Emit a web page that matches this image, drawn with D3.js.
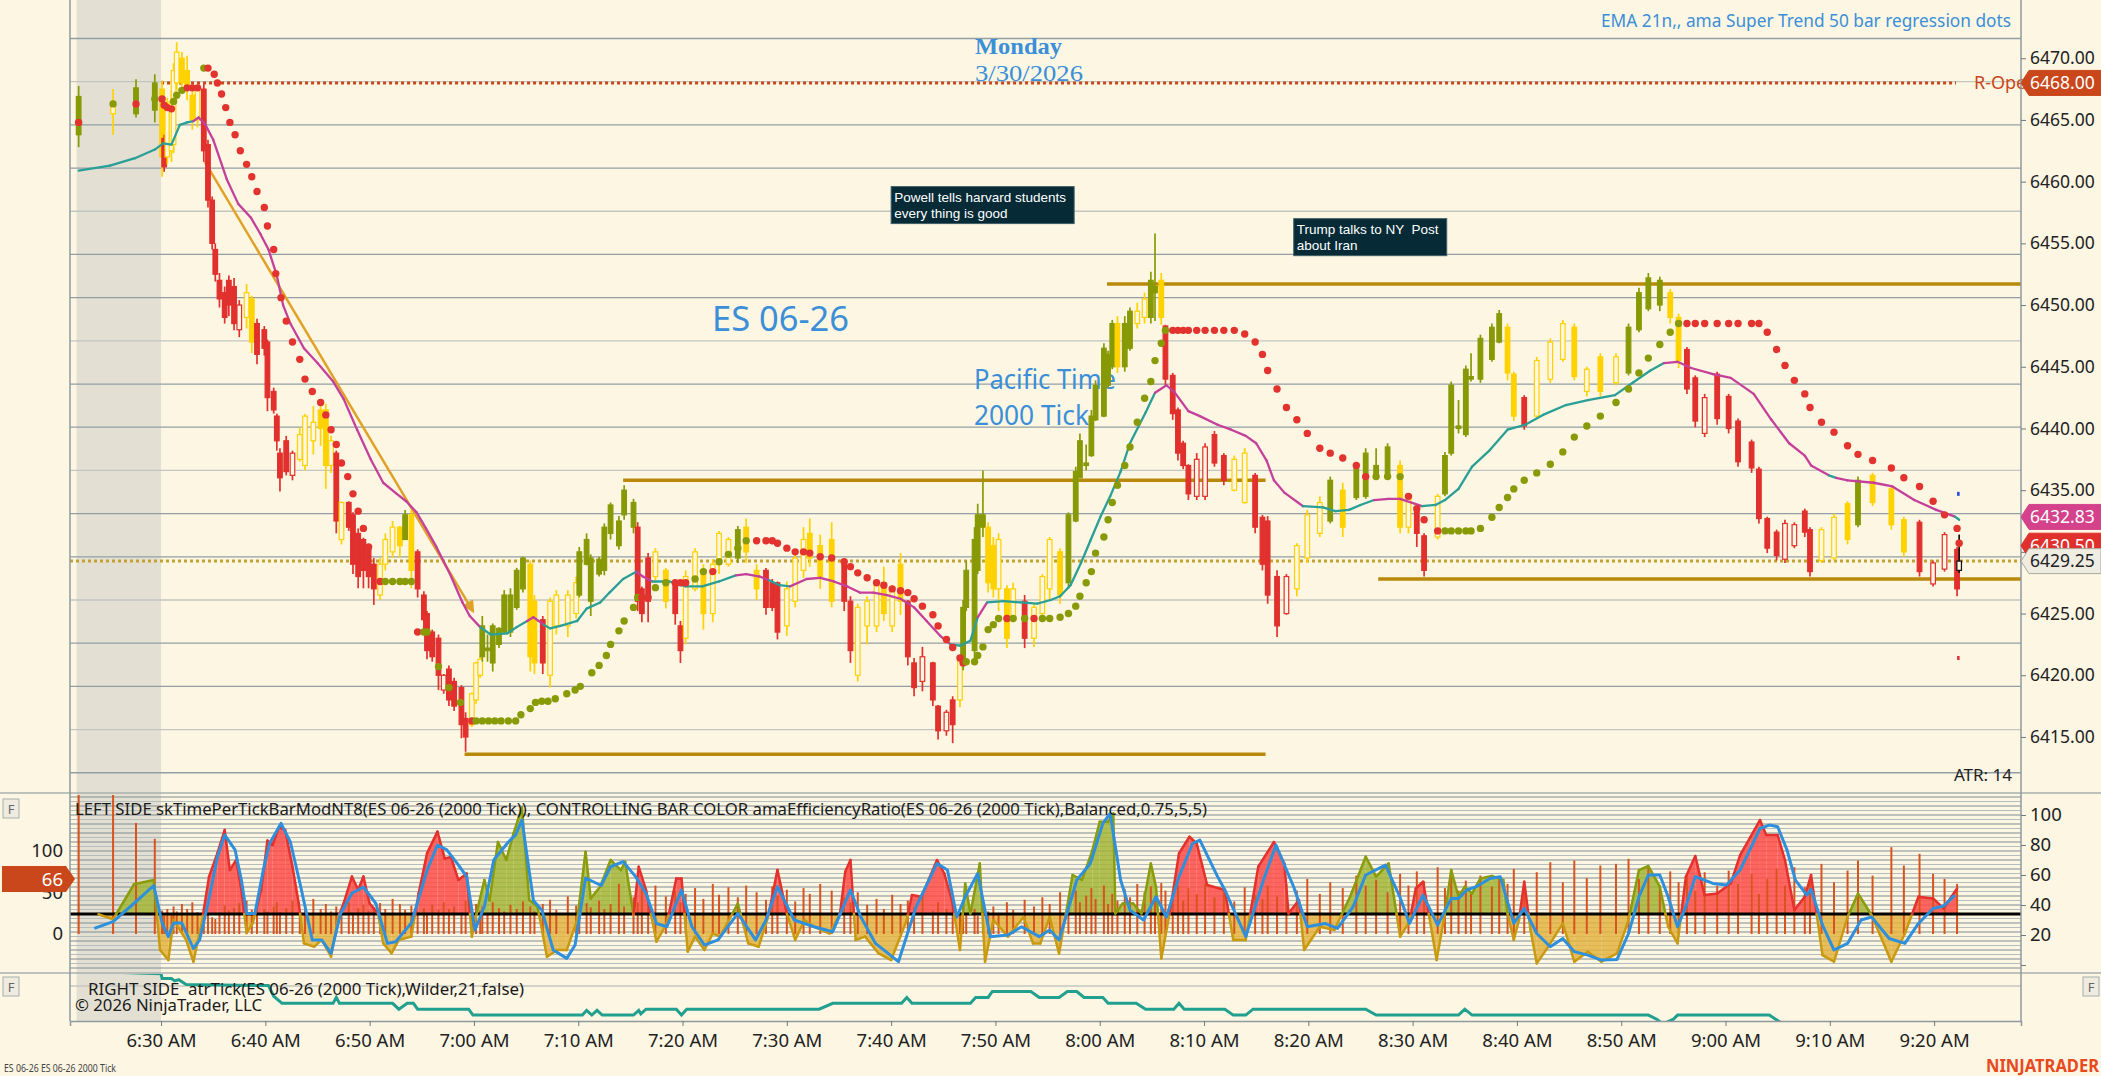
<!DOCTYPE html>
<html>
<head>
<meta charset="utf-8">
<script src="https://cdn.jsdelivr.net/npm/d3@7"></script>
<style>
  body { margin: 0; background: #FDF6E3; }
  svg text { font-family: "Noto Sans", sans-serif; }
</style>
</head>
<body>
<div id="chart"></div>
<script>
// time is minutes after 6:00 AM, rows: [t, open, high, low, close, tone, timePerBar]
var barsPre = [
  [22.1, 6463.8, 6467.75, 6462.8, 6466.9, 'g', 220], [25.4, 6465.5, 6467.5, 6463.8, 6466.5, 'y', 220],
  [27.6, 6465.5, 6468.3, 6465.2, 6467.6, 'g', 133], [29.4, 6465.8, 6468.7, 6464.8, 6468.0, 'g', 114]
];
var barsDrop = [
  [30.1, 6467.5, 6468.2, 6460.4, 6462.0, 'y', 28], [30.3, 6463.5, 6463.8, 6460.8, 6461.2, 'r', 22],
  [30.6, 6462.0, 6466.8, 6461.4, 6466.0, 'y', 30], [31.0, 6462.5, 6467.4, 6461.6, 6466.5, 'y', 25],
  [31.2, 6463.0, 6469.6, 6462.3, 6469.0, 'y', 33], [31.5, 6468.0, 6471.3, 6467.4, 6470.5, 'y', 27],
  [32.0, 6470.0, 6470.5, 6467.4, 6468.0, 'y', 36], [32.5, 6469.0, 6470.2, 6466.6, 6467.5, 'y', 30],
  [33.0, 6467.0, 6467.75, 6464.2, 6465.0, 'y', 38], [33.5, 6465.0, 6467.75, 6464.4, 6467.5, 'y', 26],
  [34.1, 6467.5, 6467.9, 6461.6, 6462.5, 'r', 32], [34.5, 6463.0, 6463.4, 6457.9, 6458.5, 'r', 24],
  [34.9, 6458.5, 6458.8, 6454.5, 6455.0, 'r', 20], [35.2, 6454.5, 6455.0, 6451.9, 6452.5, 'r', 18],
  [35.6, 6452.0, 6452.6, 6449.8, 6450.5, 'r', 26], [36.1, 6451.0, 6451.5, 6448.5, 6449.0, 'r', 34],
  [36.5, 6452.0, 6452.4, 6449.1, 6450.0, 'r', 28], [37.0, 6451.5, 6452.2, 6447.95, 6448.5, 'r', 31],
  [37.5, 6448.0, 6450.4, 6447.4, 6450.0, 'R', 37], [38.2, 6449.0, 6451.7, 6448.1, 6451.0, 'y', 40],
  [38.7, 6450.5, 6450.75, 6446.1, 6447.0, 'y', 29], [39.2, 6448.5, 6448.9, 6445.2, 6446.0, 'r', 35],
  [39.9, 6448.0, 6448.3, 6445.9, 6446.5, 'r', 30], [40.2, 6447.0, 6447.2, 6441.4, 6442.5, 'r', 27],
  [40.8, 6443.0, 6443.3, 6441.2, 6441.5, 'r', 33], [41.1, 6441.0, 6441.2, 6438.2, 6439.0, 'r', 38],
  [41.4, 6438.0, 6438.4, 6434.9, 6436.0, 'r', 26], [42.0, 6439.0, 6439.4, 6436.2, 6436.5, 'r', 31],
  [42.6, 6436.2, 6438.2, 6435.8, 6438.0, 'R', 40], [43.3, 6437.5, 6440.1, 6437.3, 6439.5, 'y', 28],
  [43.8, 6437.0, 6441.2, 6436.6, 6441.0, 'y', 34], [44.6, 6439.0, 6441.8, 6437.9, 6440.5, 'y', 42],
  [45.3, 6441.5, 6442.0, 6438.6, 6440.0, 'y', 30], [45.8, 6441.5, 6442.0, 6435.1, 6437.0, 'y', 36],
  [46.3, 6437.0, 6439.4, 6436.4, 6439.0, 'y', 27], [46.8, 6438.0, 6438.2, 6431.5, 6432.5, 'r', 33],
  [47.3, 6431.0, 6434.1, 6430.6, 6434.0, 'y', 29], [48.0, 6434.0, 6434.1, 6431.7, 6432.0, 'r', 38],
  [48.4, 6433.0, 6433.2, 6428.2, 6429.0, 'r', 25], [48.9, 6431.5, 6431.9, 6427.05, 6428.0, 'r', 31],
  [49.4, 6431.0, 6431.15, 6427.05, 6428.5, 'r', 35], [49.9, 6430.5, 6430.6, 6427.05, 6428.0, 'r', 28],
  [50.4, 6429.0, 6429.5, 6425.7, 6427.0, 'r', 32], [51.0, 6426.5, 6429.5, 6426.1, 6429.0, 'y', 37],
  [51.5, 6429.0, 6431.5, 6428.5, 6431.0, 'y', 30], [52.2, 6430.0, 6432.5, 6429.5, 6432.0, 'y', 42],
  [52.9, 6432.0, 6432.1, 6429.5, 6430.5, 'y', 36], [53.4, 6431.0, 6433.4, 6431.0, 6433.0, 'g', 29],
  [54.0, 6433.0, 6433.4, 6427.05, 6428.5, 'y', 34], [54.6, 6430.0, 6430.2, 6426.3, 6427.0, 'r', 27],
  [55.2, 6426.5, 6426.8, 6423.7, 6424.5, 'r', 31], [55.5, 6425.0, 6425.2, 6421.3, 6422.0, 'r', 24],
  [56.0, 6423.5, 6423.7, 6421.1, 6421.5, 'r', 35], [56.6, 6423.0, 6423.3, 6418.8, 6420.0, 'r', 29],
  [57.1, 6418.8, 6420.1, 6418.5, 6420.0, 'R', 38], [57.6, 6420.5, 6420.8, 6417.5, 6418.0, 'r', 30],
  [58.1, 6419.5, 6419.8, 6417.1, 6417.5, 'r', 33], [58.8, 6419.0, 6419.2, 6414.9, 6416.0, 'r', 26],
  [59.2, 6416.5, 6417.0, 6413.8, 6415.0, 'r', 40]
];
var barsBase = [
  [59.8, 6416.0, 6418.6, 6415.8, 6418.5, 'y', 30], [60.2, 6418.0, 6421.1, 6417.7, 6421.0, 'y', 36],
  [60.6, 6420.0, 6421.6, 6419.8, 6421.3, 'y', 28], [60.8, 6421.5, 6424.8, 6421.1, 6424.0, 'g', 33],
  [61.3, 6422.0, 6423.3, 6421.1, 6422.2, 'g', 25], [61.8, 6421.0, 6424.2, 6420.3, 6424.0, 'g', 38],
  [62.4, 6422.5, 6423.9, 6422.2, 6423.8, 'g', 31], [62.9, 6423.5, 6426.9, 6423.3, 6426.5, 'g', 27],
  [63.5, 6423.5, 6427.05, 6423.1, 6426.5, 'g', 35], [64.1, 6425.5, 6428.7, 6425.3, 6428.5, 'g', 30],
  [64.7, 6427.0, 6429.6, 6426.7, 6429.5, 'g', 39], [65.4, 6429.0, 6429.3, 6420.3, 6421.5, 'y', 33],
  [65.8, 6426.0, 6426.5, 6420.1, 6421.0, 'y', 27], [66.6, 6424.5, 6424.8, 6420.1, 6421.0, 'r', 36],
  [67.3, 6420.0, 6426.3, 6419.0, 6426.0, 'y', 41], [67.9, 6424.0, 6426.9, 6423.3, 6426.5, 'y', 29],
  [69.0, 6424.0, 6426.9, 6423.1, 6426.5, 'y', 45], [69.8, 6425.0, 6428.0, 6424.6, 6427.5, 'y', 34],
  [70.1, 6426.5, 6430.4, 6426.3, 6430.0, 'g', 28], [70.8, 6429.0, 6431.5, 6428.9, 6431.0, 'g', 37],
  [71.2, 6426.0, 6429.8, 6424.8, 6429.5, 'g', 32], [72.0, 6428.2, 6429.6, 6428.0, 6429.4, 'g', 40],
  [72.5, 6428.5, 6432.3, 6428.1, 6432.0, 'g', 30], [73.1, 6431.5, 6434.0, 6431.0, 6433.8, 'g', 36],
  [73.9, 6430.5, 6432.9, 6430.2, 6432.5, 'g', 60], [74.4, 6433.0, 6435.4, 6432.6, 6435.0, 'g', 33],
  [75.3, 6432.0, 6434.3, 6431.5, 6434.0, 'g', 44], [75.7, 6432.0, 6432.4, 6425.2, 6426.0, 'r', 38],
  [76.1, 6427.0, 6427.2, 6424.3, 6425.0, 'r', 55], [76.7, 6429.5, 6429.9, 6424.3, 6426.0, 'r', 40],
  [77.4, 6428.0, 6430.3, 6427.5, 6430.0, 'y', 58], [78.4, 6428.5, 6428.7, 6425.4, 6426.0, 'y', 45],
  [79.3, 6427.5, 6427.6, 6424.1, 6425.0, 'r', 52], [79.8, 6424.0, 6424.4, 6421.0, 6422.0, 'r', 38],
  [80.3, 6423.0, 6428.5, 6422.5, 6428.0, 'y', 48], [81.2, 6427.0, 6430.3, 6426.8, 6430.0, 'y', 55],
  [82.0, 6428.5, 6429.0, 6423.7, 6425.0, 'y', 42], [82.9, 6425.0, 6429.4, 6424.3, 6429.0, 'y', 60],
  [83.5, 6429.0, 6431.7, 6428.2, 6431.5, 'y', 47], [84.4, 6429.0, 6431.2, 6428.8, 6431.0, 'y', 56],
  [85.3, 6429.5, 6432.1, 6429.1, 6431.8, 'g', 44], [86.1, 6432.0, 6432.7, 6429.1, 6430.0, 'y', 58],
  [87.1, 6428.5, 6429.0, 6426.1, 6427.0, 'y', 50], [88.0, 6428.5, 6428.7, 6424.9, 6425.5, 'r', 41],
  [88.6, 6427.5, 6427.8, 6425.2, 6425.5, 'r', 57], [89.1, 6427.5, 6427.6, 6422.9, 6423.5, 'r', 46],
  [90.0, 6424.0, 6427.6, 6423.2, 6427.0, 'y', 53], [90.8, 6426.0, 6430.0, 6425.5, 6429.5, 'y', 39],
  [91.6, 6428.5, 6432.0, 6427.9, 6431.0, 'y', 55], [92.2, 6431.5, 6432.7, 6428.8, 6429.5, 'y', 48],
  [93.2, 6430.5, 6431.4, 6427.0, 6428.0, 'y', 60], [94.3, 6431.0, 6432.4, 6425.5, 6426.0, 'y', 52],
  [95.5, 6429.0, 6429.4, 6425.2, 6426.0, 'r', 44], [96.1, 6426.0, 6426.4, 6421.0, 6422.0, 'r', 38],
  [96.8, 6420.0, 6425.8, 6419.5, 6425.5, 'y', 50], [97.7, 6424.0, 6426.4, 6422.5, 6426.0, 'y', 35],
  [98.6, 6424.0, 6427.8, 6423.5, 6427.5, 'y', 42], [99.3, 6427.5, 6428.8, 6424.4, 6425.0, 'y', 30],
  [100.1, 6424.0, 6427.3, 6423.5, 6427.0, 'y', 47], [100.9, 6429.0, 6429.9, 6424.9, 6426.0, 'y', 36],
  [101.6, 6426.0, 6426.1, 6420.8, 6421.5, 'r', 40], [102.2, 6421.0, 6421.4, 6418.3, 6419.0, 'r', 32],
  [103.0, 6419.5, 6422.3, 6418.7, 6421.5, 'R', 45], [104.0, 6421.0, 6421.1, 6417.5, 6418.0, 'r', 28],
  [104.5, 6417.5, 6417.6, 6414.8, 6415.5, 'r', 38], [105.3, 6415.5, 6417.2, 6415.1, 6417.0, 'R', 30],
  [105.9, 6418.0, 6418.3, 6414.5, 6416.0, 'r', 42]
];
var barsRally = [
  [106.6, 6418.0, 6421.6, 6417.4, 6421.5, 'y', 26], [106.9, 6421.0, 6426.1, 6420.4, 6425.5, 'g', 34],
  [107.2, 6425.5, 6429.3, 6425.2, 6428.5, 'g', 24], [108.0, 6422.0, 6432.0, 6421.3, 6431.0, 'g', 30],
  [108.3, 6428.5, 6433.9, 6428.2, 6433.0, 'g', 22], [108.8, 6432.0, 6436.6, 6431.2, 6433.0, 'g', 36],
  [109.3, 6432.0, 6432.4, 6426.7, 6427.5, 'y', 27], [109.8, 6430.5, 6431.2, 6426.3, 6427.0, 'y', 33],
  [110.3, 6427.0, 6431.5, 6425.2, 6431.0, 'y', 25], [111.1, 6427.0, 6427.3, 6422.2, 6423.0, 'y', 38],
  [111.7, 6424.5, 6427.5, 6424.3, 6427.0, 'y', 29], [112.8, 6426.0, 6426.5, 6422.2, 6423.0, 'r', 41],
  [113.7, 6423.0, 6425.8, 6422.3, 6425.5, 'y', 33], [114.5, 6425.0, 6428.2, 6424.9, 6428.0, 'y', 44],
  [115.2, 6427.0, 6431.2, 6426.1, 6431.0, 'y', 36], [116.2, 6430.0, 6430.3, 6425.8, 6426.5, 'y', 50],
  [117.0, 6427.5, 6433.2, 6427.0, 6433.0, 'g', 40], [117.7, 6432.5, 6436.9, 6432.4, 6436.5, 'g', 52],
  [118.1, 6436.0, 6439.6, 6436.0, 6439.0, 'g', 38], [118.7, 6437.0, 6438.7, 6436.6, 6437.2, 'g', 46],
  [119.2, 6437.8, 6441.5, 6437.7, 6441.0, 'g', 55], [119.6, 6440.7, 6443.9, 6440.6, 6443.5, 'g', 42],
  [120.4, 6441.0, 6446.9, 6440.9, 6446.5, 'g', 58], [120.8, 6443.5, 6446.3, 6443.3, 6446.0, 'g', 36],
  [121.2, 6445.0, 6448.8, 6444.8, 6448.5, 'g', 48], [121.7, 6448.5, 6449.1, 6444.5, 6445.0, 'y', 40],
  [122.4, 6445.0, 6449.1, 6444.6, 6448.5, 'g', 54], [122.9, 6446.5, 6449.8, 6446.3, 6449.5, 'g', 44],
  [123.6, 6448.5, 6450.2, 6448.1, 6449.5, 'y', 60], [124.3, 6449.0, 6451.0, 6448.5, 6450.5, 'y', 50],
  [124.9, 6449.0, 6452.7, 6448.5, 6452.0, 'g', 57], [125.3, 6451.0, 6455.8, 6448.7, 6451.5, 'g', 45],
  [125.9, 6452.0, 6452.6, 6448.4, 6449.0, 'y', 61]
];
var barsFade = [
  [126.3, 6448.3, 6448.4, 6443.5, 6444.0, 'r', 52], [127.0, 6444.3, 6444.5, 6440.7, 6441.2, 'r', 46],
  [127.5, 6441.5, 6441.7, 6437.4, 6438.0, 'r', 58], [128.0, 6438.8, 6439.0, 6436.7, 6437.0, 'r', 40],
  [128.5, 6437.0, 6437.1, 6434.2, 6434.7, 'r', 55], [129.3, 6434.5, 6438.0, 6434.2, 6437.5, 'R', 48],
  [130.1, 6434.5, 6438.8, 6434.2, 6438.5, 'R', 60], [131.0, 6439.5, 6439.8, 6436.9, 6437.2, 'r', 44],
  [131.9, 6437.8, 6438.0, 6435.4, 6435.8, 'r', 52], [132.9, 6435.0, 6437.8, 6434.9, 6437.5, 'y', 39],
  [133.9, 6434.0, 6438.4, 6433.9, 6438.0, 'y', 56], [134.9, 6436.2, 6436.4, 6431.5, 6432.0, 'r', 47],
  [135.6, 6432.8, 6433.0, 6428.5, 6429.0, 'r', 42], [136.1, 6432.5, 6432.9, 6425.8, 6426.5, 'r', 58],
  [137.0, 6428.0, 6428.5, 6423.1, 6424.0, 'r', 45], [137.9, 6425.0, 6428.2, 6424.9, 6428.0, 'R', 60],
  [138.9, 6427.0, 6430.7, 6426.4, 6430.5, 'y', 52], [139.9, 6429.5, 6433.4, 6429.1, 6433.0, 'y', 66],
  [141.1, 6431.5, 6434.5, 6431.2, 6434.0, 'y', 48], [142.1, 6432.5, 6436.1, 6432.3, 6435.8, 'g', 62],
  [143.3, 6435.0, 6435.6, 6431.2, 6432.0, 'y', 55], [144.6, 6434.4, 6437.1, 6434.2, 6436.8, 'g', 70],
  [145.5, 6434.5, 6438.4, 6434.3, 6438.0, 'g', 58], [146.5, 6436.3, 6438.4, 6436.1, 6437.0, 'g', 65],
  [147.6, 6436.2, 6438.8, 6436.0, 6438.5, 'g', 50], [148.8, 6437.0, 6437.4, 6431.5, 6432.0, 'y', 72],
  [149.6, 6432.0, 6434.7, 6431.5, 6434.5, 'y', 58], [150.4, 6433.5, 6433.7, 6430.4, 6431.5, 'r', 75],
  [151.1, 6431.3, 6431.5, 6428.0, 6428.5, 'r', 63], [152.4, 6431.2, 6434.7, 6431.0, 6434.5, 'y', 80],
  [153.1, 6434.7, 6438.1, 6434.5, 6437.8, 'g', 55], [153.7, 6438.0, 6443.8, 6437.8, 6443.5, 'g', 68],
  [154.4, 6440.0, 6442.3, 6439.6, 6440.2, 'g', 52], [155.1, 6439.5, 6445.1, 6439.3, 6444.8, 'g', 64],
  [155.6, 6444.0, 6446.1, 6443.8, 6444.2, 'g', 48], [156.5, 6444.0, 6447.6, 6443.7, 6447.3, 'g', 70],
  [157.6, 6445.6, 6448.5, 6445.4, 6448.2, 'g', 57], [158.3, 6447.0, 6449.6, 6446.9, 6449.3, 'g', 66],
  [159.1, 6448.2, 6448.5, 6443.9, 6444.5, 'y', 60], [159.7, 6444.4, 6444.6, 6440.6, 6441.0, 'y', 78],
  [160.7, 6442.5, 6442.7, 6439.9, 6440.2, 'r', 55], [161.9, 6441.0, 6445.8, 6440.8, 6445.5, 'y', 74],
  [163.2, 6444.0, 6447.3, 6443.7, 6447.0, 'y', 86], [164.4, 6445.6, 6448.8, 6445.4, 6448.5, 'y', 62],
  [165.5, 6448.2, 6448.5, 6443.9, 6444.2, 'y', 88], [166.7, 6443.0, 6445.0, 6442.6, 6444.8, 'y', 67],
  [168.0, 6445.8, 6446.1, 6442.6, 6443.0, 'y', 82], [169.5, 6443.7, 6446.1, 6443.5, 6445.8, 'y', 84],
  [170.7, 6444.5, 6448.5, 6444.3, 6448.2, 'g', 90], [171.7, 6448.0, 6451.4, 6447.8, 6451.0, 'g', 66],
  [172.6, 6449.7, 6452.6, 6449.5, 6452.2, 'g', 80], [173.7, 6452.0, 6452.3, 6449.5, 6450.0, 'g', 58],
  [174.7, 6451.0, 6451.3, 6448.5, 6449.0, 'y', 75], [175.5, 6449.0, 6449.3, 6444.9, 6445.5, 'y', 62],
  [176.3, 6446.4, 6446.6, 6442.8, 6443.2, 'r', 70], [177.1, 6444.1, 6444.3, 6440.1, 6440.6, 'r', 52],
  [178.0, 6439.6, 6442.8, 6439.3, 6442.5, 'R', 74], [179.2, 6444.4, 6444.6, 6440.3, 6440.8, 'r', 58],
  [180.3, 6442.6, 6442.8, 6439.6, 6440.0, 'r', 76], [181.2, 6440.6, 6440.8, 6436.9, 6437.3, 'r', 60],
  [182.5, 6438.9, 6439.1, 6436.4, 6436.8, 'r', 72], [183.2, 6436.7, 6436.9, 6432.3, 6432.7, 'r', 48],
  [184.0, 6432.7, 6432.85, 6429.9, 6430.3, 'r', 66], [184.9, 6431.6, 6431.8, 6429.3, 6429.7, 'r', 78],
  [185.7, 6429.4, 6432.6, 6429.1, 6432.3, 'R', 58], [186.6, 6430.5, 6432.4, 6430.3, 6432.2, 'R', 80],
  [187.6, 6433.3, 6433.5, 6431.2, 6431.6, 'r', 56], [188.1, 6431.8, 6432.0, 6428.0, 6428.4, 'r', 68],
  [189.2, 6429.3, 6432.0, 6429.1, 6431.8, 'y', 84], [190.4, 6429.5, 6433.1, 6429.3, 6432.8, 'y', 62],
  [191.7, 6433.9, 6434.1, 6430.6, 6431.0, 'y', 76], [192.7, 6432.2, 6436.1, 6432.0, 6435.8, 'g', 88],
  [194.1, 6436.2, 6436.4, 6433.7, 6434.0, 'y', 70], [195.9, 6435.1, 6435.3, 6431.8, 6432.2, 'y', 104],
  [197.1, 6432.6, 6432.85, 6429.6, 6430.0, 'y', 82], [198.6, 6432.4, 6432.6, 6428.0, 6428.4, 'r', 96],
  [199.9, 6427.4, 6429.3, 6427.2, 6429.1, 'R', 72], [201.0, 6428.6, 6431.6, 6428.4, 6431.4, 'R', 66],
  [202.2, 6430.2, 6430.4, 6426.4, 6427.0, 'r', 60], [202.4, 6428.5, 6431.4, 6428.3, 6429.25, 'K', 0]
];

// super trend dots [t, value, side]
var stDots = [
  [22.1, 6464.8, 'r'], [25.4, 6466.3, 'g'], [27.6, 6466.3, 'r'], [29.4, 6466.7, 'g'], [30.1, 6466.7, 'r'],
  [30.3, 6466.2, 'r'], [30.6, 6466.0, 'r'], [31.0, 6465.9, 'r'], [31.2, 6466.5, 'g'], [31.5, 6467.0, 'g'],
  [32.0, 6467.4, 'g'], [32.5, 6467.6, 'r'], [33.0, 6467.6, 'r'], [33.5, 6467.6, 'r'], [34.1, 6469.2, 'g'],
  [34.5, 6469.2, 'r'], [35.1, 6468.7, 'r'], [35.4, 6468.0, 'r'], [35.8, 6467.1, 'r'], [36.2, 6466.0, 'r'],
  [36.6, 6464.8, 'r'], [37.1, 6463.8, 'r'], [37.6, 6462.5, 'r'], [38.2, 6461.4, 'r'], [38.7, 6460.4, 'r'],
  [39.2, 6459.2, 'r'], [39.9, 6457.9, 'r'], [40.2, 6456.4, 'r'], [40.8, 6454.5, 'r'], [41.0, 6452.55, 'r'],
  [41.5, 6450.6, 'r'], [42.0, 6448.7, 'r'], [42.6, 6447.0, 'r'], [43.3, 6445.6, 'r'], [43.8, 6444.0, 'r'],
  [44.5, 6443.0, 'r'], [45.3, 6442.1, 'r'], [45.8, 6441.1, 'r'], [46.3, 6439.9, 'r'], [46.8, 6438.7, 'r'],
  [47.3, 6437.2, 'r'], [47.9, 6436.1, 'r'], [48.4, 6434.7, 'r'], [48.9, 6433.3, 'r'], [49.4, 6431.9, 'r'],
  [49.9, 6430.4, 'r'], [51.0, 6427.6, 'r'], [51.5, 6427.6, 'g'], [52.2, 6427.6, 'g'], [52.9, 6427.6, 'g'],
  [53.4, 6427.6, 'g'], [54.0, 6427.6, 'g'], [54.6, 6423.5, 'r'], [55.2, 6423.5, 'g'], [55.5, 6423.5, 'g'],
  [56.6, 6420.7, 'g'], [57.6, 6419.0, 'g'], [58.7, 6417.8, 'g'], [59.8, 6416.3, 'r'], [60.2, 6416.3, 'g'],
  [60.8, 6416.3, 'g'], [61.4, 6416.3, 'g'], [62.0, 6416.3, 'g'], [62.6, 6416.3, 'g'], [63.3, 6416.3, 'g'],
  [64.0, 6416.3, 'g'], [64.5, 6416.8, 'g'], [65.4, 6417.3, 'g'], [65.9, 6417.8, 'g'], [66.5, 6417.9, 'g'],
  [67.1, 6417.9, 'g'], [67.8, 6418.1, 'g'], [68.9, 6418.5, 'g'], [69.7, 6418.8, 'g'], [70.2, 6419.1, 'g'],
  [71.3, 6420.2, 'g'], [72.0, 6420.8, 'g'], [72.7, 6421.6, 'g'], [73.1, 6422.5, 'g'], [73.9, 6423.6, 'g'],
  [74.4, 6424.4, 'g'], [75.3, 6425.5, 'g'], [75.7, 6426.3, 'g'], [76.1, 6426.3, 'r'], [76.7, 6426.3, 'r'],
  [77.4, 6427.1, 'g'], [78.4, 6427.5, 'g'], [79.3, 6427.5, 'r'], [79.8, 6427.5, 'r'], [80.3, 6427.5, 'r'],
  [81.2, 6427.8, 'g'], [82.0, 6428.4, 'g'], [82.9, 6428.4, 'r'], [83.5, 6429.2, 'g'], [84.4, 6429.8, 'g'],
  [85.3, 6430.3, 'g'], [86.1, 6430.9, 'g'], [87.1, 6430.9, 'r'], [88.0, 6430.9, 'r'], [88.6, 6430.9, 'r'],
  [89.1, 6430.7, 'r'], [90.0, 6430.3, 'r'], [90.8, 6430.0, 'r'], [91.6, 6430.0, 'r'], [92.2, 6429.9, 'r'],
  [93.2, 6429.6, 'r'], [94.3, 6429.5, 'r'], [95.5, 6429.2, 'r'], [96.1, 6428.8, 'r'], [96.8, 6428.3, 'r'],
  [97.7, 6427.9, 'r'], [98.6, 6427.5, 'r'], [99.3, 6427.3, 'r'], [100.1, 6427.0, 'r'], [100.9, 6426.85, 'r'],
  [101.6, 6426.7, 'r'], [102.2, 6426.2, 'r'], [103.0, 6425.6, 'r'], [104.0, 6424.9, 'r'], [104.5, 6424.0, 'r'],
  [105.3, 6422.9, 'r'], [105.9, 6422.25, 'r'], [106.6, 6421.4, 'r'], [106.9, 6421.0, 'r'], [107.2, 6421.1, 'g'],
  [108.0, 6421.1, 'g'], [108.3, 6421.6, 'g'], [108.8, 6422.3, 'g'], [109.3, 6423.7, 'g'], [109.8, 6424.1, 'g'],
  [110.3, 6424.6, 'g'], [111.1, 6424.6, 'r'], [111.7, 6424.6, 'g'], [112.8, 6424.6, 'g'], [113.7, 6424.6, 'r'],
  [114.5, 6424.6, 'g'], [115.2, 6424.6, 'g'], [116.2, 6424.7, 'g'], [117.0, 6425.0, 'g'], [117.7, 6425.6, 'g'],
  [118.1, 6426.4, 'g'], [118.7, 6427.5, 'g'], [119.2, 6428.4, 'g'], [119.6, 6429.9, 'g'], [120.4, 6431.2, 'g'],
  [120.8, 6432.6, 'g'], [121.2, 6434.0, 'g'], [121.7, 6435.4, 'g'], [122.4, 6437.0, 'g'], [122.9, 6438.5, 'g'],
  [123.6, 6440.5, 'g'], [124.3, 6442.45, 'g'], [124.9, 6443.8, 'g'], [125.3, 6445.5, 'g'], [125.9, 6446.9, 'g'],
  [126.3, 6447.95, 'g'], [127.0, 6447.95, 'r'], [127.5, 6447.95, 'r'], [128.0, 6447.95, 'r'], [128.5, 6447.95, 'r'],
  [129.3, 6447.95, 'r'], [130.1, 6447.95, 'r'], [131.0, 6447.95, 'r'], [131.9, 6447.95, 'r'], [132.9, 6447.95, 'r'],
  [133.9, 6447.65, 'r'], [134.9, 6447.0, 'r'], [135.6, 6446.0, 'r'], [136.1, 6444.7, 'r'], [137.0, 6443.2, 'r'],
  [137.9, 6441.7, 'r'], [138.9, 6440.7, 'r'], [139.9, 6439.6, 'r'], [141.1, 6438.4, 'r'], [142.1, 6438.0, 'r'],
  [143.3, 6437.6, 'r'], [144.6, 6437.0, 'r'], [145.5, 6436.1, 'r'], [146.5, 6436.1, 'g'], [147.6, 6436.1, 'g'],
  [148.8, 6436.1, 'g'], [149.6, 6434.5, 'r'], [150.4, 6433.5, 'r'], [151.1, 6432.6, 'r'], [152.4, 6431.7, 'r'],
  [153.1, 6431.7, 'g'], [153.7, 6431.7, 'g'], [154.4, 6431.7, 'g'], [155.1, 6431.7, 'g'], [155.6, 6431.7, 'g'],
  [156.5, 6431.9, 'g'], [157.6, 6432.8, 'g'], [158.3, 6433.6, 'g'], [159.1, 6434.4, 'g'], [159.7, 6435.1, 'g'],
  [160.7, 6435.8, 'g'], [161.9, 6436.4, 'g'], [163.2, 6437.1, 'g'], [164.4, 6438.1, 'g'], [165.5, 6439.3, 'g'],
  [166.7, 6440.2, 'g'], [168.0, 6441.0, 'g'], [169.5, 6442.1, 'g'], [170.7, 6443.2, 'g'], [171.7, 6444.5, 'g'],
  [172.6, 6445.7, 'g'], [173.7, 6446.8, 'g'], [174.7, 6447.8, 'g'], [175.5, 6448.5, 'g'], [176.3, 6448.5, 'r'],
  [177.1, 6448.5, 'r'], [178.0, 6448.5, 'r'], [179.2, 6448.5, 'r'], [180.3, 6448.5, 'r'], [181.2, 6448.5, 'r'],
  [182.5, 6448.5, 'r'], [183.2, 6448.5, 'r'], [184.0, 6447.8, 'r'], [184.9, 6446.4, 'r'], [185.7, 6445.1, 'r'],
  [186.6, 6443.9, 'r'], [187.6, 6442.8, 'r'], [188.1, 6441.7, 'r'], [189.2, 6440.5, 'r'], [190.4, 6439.7, 'r'],
  [191.7, 6438.6, 'r'], [192.7, 6437.9, 'r'], [194.1, 6437.4, 'r'], [195.9, 6436.8, 'r'], [197.1, 6436.0, 'r'],
  [198.6, 6435.3, 'r'], [199.9, 6434.1, 'r'], [201.0, 6433.0, 'r'], [202.2, 6431.9, 'r'], [202.4, 6430.7, 'r']
];

// EMA 21 [t, value, u = rising teal / d = falling magenta]
var emaPts = [
  [22.1, 6460.9, 'u'], [25.1, 6461.3, 'u'], [27.5, 6461.9, 'u'], [29.4, 6462.6, 'u'], [30.2, 6463.1, 'u'],
  [31.0, 6463.0, 'u'], [31.8, 6464.6, 'u'], [32.5, 6464.8, 'u'], [33.1, 6464.9, 'u'], [33.6, 6465.2, 'd'],
  [34.2, 6464.7, 'd'], [35.0, 6463.4, 'd'], [36.3, 6460.2, 'd'], [37.4, 6458.2, 'd'], [38.6, 6457.1, 'd'],
  [39.5, 6455.8, 'd'], [40.3, 6454.5, 'd'], [41.1, 6452.4, 'd'], [41.7, 6450.0, 'd'], [42.4, 6448.5, 'd'],
  [43.7, 6446.5, 'd'], [45.0, 6445.3, 'd'], [46.5, 6443.8, 'd'], [47.5, 6442.4, 'd'], [48.8, 6439.9, 'd'],
  [50.1, 6437.5, 'd'], [51.3, 6435.6, 'd'], [52.6, 6434.7, 'd'], [53.5, 6434.1, 'd'], [54.5, 6433.2, 'd'],
  [55.4, 6431.9, 'd'], [56.4, 6430.4, 'd'], [57.7, 6428.2, 'd'], [58.9, 6425.9, 'd'], [59.6, 6424.8, 'd'],
  [60.6, 6423.9, 'd'], [61.6, 6423.3, 'u'], [63.2, 6423.4, 'u'], [64.1, 6423.9, 'u'], [65.1, 6424.4, 'u'],
  [65.7, 6424.7, 'd'], [66.7, 6424.1, 'd'], [67.3, 6423.8, 'u'], [68.3, 6424.0, 'u'], [69.9, 6424.4, 'u'],
  [70.8, 6425.4, 'u'], [72.1, 6425.9, 'u'], [73.0, 6426.7, 'u'], [74.3, 6427.8, 'u'], [75.6, 6428.4, 'u'],
  [76.2, 6428.0, 'd'], [77.1, 6427.6, 'd'], [78.7, 6427.6, 'u'], [80.3, 6427.2, 'u'], [81.9, 6427.2, 'u'],
  [83.5, 6427.6, 'u'], [85.1, 6428.1, 'u'], [86.1, 6428.2, 'd'], [87.4, 6428.0, 'd'], [88.3, 6427.7, 'd'],
  [89.3, 6427.3, 'u'], [90.3, 6427.2, 'u'], [91.9, 6427.8, 'd'], [93.2, 6427.9, 'd'], [94.5, 6427.6, 'd'],
  [95.8, 6427.2, 'd'], [97.0, 6426.7, 'd'], [98.3, 6426.7, 'd'], [99.6, 6426.5, 'd'], [100.9, 6426.2, 'd'],
  [102.2, 6425.5, 'd'], [103.4, 6424.4, 'd'], [104.7, 6423.2, 'd'], [105.7, 6422.5, 'd'], [106.6, 6422.4, 'u'],
  [107.6, 6422.8, 'u'], [108.3, 6424.7, 'u'], [109.2, 6425.9, 'd'], [110.8, 6426.0, 'u'], [112.4, 6425.9, 'u'],
  [114.0, 6425.8, 'u'], [115.3, 6426.1, 'u'], [116.2, 6426.4, 'u'], [117.2, 6427.3, 'u'], [118.2, 6429.1, 'u'],
  [119.1, 6430.9, 'u'], [120.1, 6432.9, 'u'], [121.0, 6434.5, 'u'], [122.0, 6436.5, 'u'], [122.9, 6438.8, 'u'],
  [124.4, 6441.3, 'u'], [125.3, 6442.9, 'u'], [126.4, 6443.5, 'd'], [127.2, 6442.9, 'd'], [128.5, 6441.4, 'd'],
  [129.6, 6441.0, 'd'], [131.3, 6440.3, 'd'], [132.6, 6439.9, 'd'], [134.0, 6439.4, 'd'], [135.0, 6438.8, 'd'],
  [136.0, 6437.4, 'd'], [136.7, 6435.8, 'd'], [137.7, 6434.8, 'd'], [139.5, 6433.7, 'd'], [141.4, 6433.6, 'u'],
  [142.6, 6433.3, 'u'], [143.9, 6433.4, 'u'], [145.0, 6433.8, 'u'], [146.3, 6434.2, 'u'], [147.7, 6434.3, 'd'],
  [148.8, 6434.3, 'd'], [150.9, 6433.7, 'd'], [152.2, 6433.8, 'u'], [153.1, 6434.2, 'u'], [154.4, 6435.1, 'u'],
  [155.7, 6436.9, 'u'], [157.4, 6438.25, 'u'], [159.1, 6439.9, 'u'], [160.8, 6440.3, 'u'], [162.5, 6441.1, 'u'],
  [164.7, 6441.9, 'u'], [166.8, 6442.3, 'u'], [169.4, 6442.7, 'u'], [171.1, 6443.7, 'u'], [172.8, 6444.7, 'u'],
  [174.1, 6445.3, 'u'], [175.4, 6445.4, 'd'], [176.7, 6444.9, 'd'], [178.8, 6444.4, 'd'], [180.5, 6444.1, 'd'],
  [182.7, 6442.8, 'd'], [184.4, 6440.7, 'd'], [186.1, 6438.8, 'd'], [187.6, 6437.8, 'd'], [188.2, 6437.0, 'd'],
  [189.9, 6436.2, 'd'], [190.6, 6436.0, 'u'], [191.7, 6435.8, 'd'], [194.2, 6435.6, 'd'], [196.0, 6435.3, 'd'],
  [198.1, 6434.2, 'd'], [200.2, 6433.4, 'd'], [202.0, 6432.85, 'd'], [202.4, 6432.6, 'u']
];

// efficiency ratio outline [t, value, colour when above threshold]
var erPts = [
  [24.0, 33.8, 'y'], [25.4, 30.4, 'y'], [27.4, 53.8, 'g'], [29.3, 56.7, 'g'], [29.9, 10, 'y'], [30.7, 3.3, 'y'],
  [31.2, 30, 'y'], [32.4, 16.7, 'y'], [33.1, 2.2, 'y'], [33.9, 28, 'y'], [34.6, 58.9, 'r'], [35.4, 74.4, 'r'],
  [36.1, 90, 'r'], [36.6, 63.3, 'r'], [37.2, 70, 'r'], [37.7, 50, 'r'], [38.2, 21.3, 'y'], [38.8, 28, 'y'],
  [39.6, 50, 'r'], [40.2, 83, 'r'], [40.7, 80, 'r'], [41.3, 92, 'r'], [41.9, 90, 'r'], [42.6, 65.5, 'r'],
  [43.2, 41, 'r'], [43.7, 14.4, 'y'], [44.7, 12.2, 'y'], [45.4, 16.7, 'y'], [46.3, 5.5, 'y'], [47.0, 32, 'y'],
  [47.5, 41, 'r'], [48.3, 59, 'r'], [48.9, 50, 'r'], [49.4, 59, 'r'], [50.0, 41, 'r'], [50.8, 34.4, 'r'],
  [51.3, 14.4, 'y'], [52.1, 7.8, 'y'], [52.8, 16.7, 'y'], [54.0, 18.9, 'y'], [54.7, 47.8, 'r'], [55.5, 74.4, 'r'],
  [56.5, 88.9, 'r'], [57.2, 71, 'r'], [57.8, 72, 'r'], [58.5, 56.7, 'r'], [59.3, 61, 'r'], [59.8, 18.9, 'y'],
  [60.4, 39, 'g'], [61.0, 56.7, 'g'], [61.5, 43, 'g'], [62.3, 82, 'g'], [63.1, 70, 'g'], [63.8, 87.8, 'g'],
  [64.6, 105, 'g'], [65.3, 43.3, 'g'], [66.1, 38.9, 'g'], [67.0, 5.5, 'y'], [68.0, 10, 'y'], [68.9, 10, 'y'],
  [69.9, 30, 'y'], [70.7, 75.5, 'g'], [71.2, 44.4, 'g'], [72.1, 52.2, 'g'], [73.1, 70, 'g'], [74.1, 63.3, 'g'],
  [74.5, 68.9, 'g'], [75.3, 33.3, 'y'], [75.8, 65.5, 'r'], [76.5, 50, 'r'], [77.5, 15.5, 'y'], [78.5, 27.7, 'y'],
  [79.4, 57.7, 'r'], [79.9, 57.7, 'r'], [80.5, 8.9, 'y'], [81.2, 18.9, 'y'], [82.1, 10, 'y'], [82.9, 21, 'y'],
  [83.6, 18.9, 'y'], [85.3, 41, 'g'], [86.3, 14.4, 'y'], [87.3, 12.2, 'y'], [88.2, 32, 'y'], [89.1, 63.3, 'r'],
  [90.0, 34.4, 'r'], [90.8, 16.7, 'y'], [91.7, 30, 'y'], [92.6, 25.5, 'y'], [94.1, 21, 'y'], [95.1, 34.4, 'r'],
  [95.6, 62.2, 'r'], [96.1, 70, 'r'], [96.6, 16.7, 'y'], [97.5, 18.9, 'y'], [98.8, 7.7, 'y'], [100.0, 3.3, 'y'],
  [101.5, 30, 'y'], [102.0, 46.6, 'r'], [102.9, 45.5, 'r'], [104.4, 70, 'r'], [105.1, 61, 'r'], [105.9, 41, 'r'],
  [106.6, 10, 'y'], [107.1, 54.4, 'g'], [107.6, 34.4, 'g'], [108.5, 67.7, 'g'], [109.0, 2.2, 'y'], [109.8, 30, 'y'],
  [111.2, 18.9, 'y'], [112.7, 32, 'y'], [113.6, 14.4, 'y'], [114.3, 14.4, 'y'], [115.2, 32, 'y'], [116.1, 7.7, 'y'],
  [117.4, 60, 'g'], [118.3, 56.7, 'g'], [119.3, 76.6, 'g'], [120.0, 95.5, 'g'], [120.8, 95.5, 'g'], [121.3, 101, 'g'],
  [121.5, 34.4, 'g'], [122.2, 41, 'g'], [123.2, 41, 'g'], [124.0, 34.4, 'g'], [124.9, 67.7, 'g'], [125.4, 52, 'g'],
  [125.9, 4.4, 'y'], [126.7, 34.4, 'r'], [127.6, 74.4, 'r'], [128.6, 85.5, 'r'], [129.3, 81, 'r'], [130.3, 53.3, 'r'],
  [132.0, 50, 'r'], [132.8, 16.7, 'y'], [134.0, 16.7, 'y'], [135.2, 65.5, 'r'], [136.7, 82, 'r'], [137.7, 67.7, 'r'],
  [138.1, 34.4, 'r'], [139.1, 43.3, 'r'], [139.6, 10, 'y'], [141.1, 25.5, 'y'], [142.5, 23.3, 'y'], [144.0, 45.5, 'g'],
  [145.5, 72.2, 'g'], [146.5, 58.9, 'g'], [147.7, 67.7, 'g'], [148.8, 18.9, 'y'], [149.7, 28.9, 'y'], [150.3, 51, 'r'],
  [151.0, 55.5, 'r'], [151.6, 32, 'y'], [152.3, 3.3, 'y'], [153.1, 34.4, 'g'], [153.7, 63.3, 'g'], [154.4, 45.5, 'g'],
  [155.0, 52.2, 'g'], [155.7, 47.7, 'g'], [156.5, 57.7, 'g'], [157.6, 59.3, 'g'], [158.7, 56.7, 'g'], [159.1, 34.4, 'g'],
  [159.7, 16.7, 'y'], [160.2, 30, 'y'], [160.7, 55.5, 'r'], [161.3, 23.3, 'y'], [161.9, 1.1, 'y'], [163.0, 12.2, 'y'],
  [164.4, 27.7, 'y'], [165.5, 2.2, 'y'], [166.8, 8.9, 'y'], [168.1, 2.2, 'y'], [169.6, 7.7, 'y'], [170.7, 30, 'y'],
  [171.7, 63.3, 'g'], [172.6, 66, 'g'], [173.7, 52.2, 'g'], [174.5, 25.5, 'y'], [175.4, 14.4, 'y'], [176.2, 58.9, 'r'],
  [177.1, 72.6, 'r'], [178.0, 46.6, 'r'], [179.2, 47.7, 'r'], [180.5, 54.4, 'r'], [181.4, 73.3, 'r'], [182.4, 85.5, 'r'],
  [183.3, 96.6, 'r'], [183.9, 86.6, 'r'], [185.0, 86.6, 'r'], [185.7, 70, 'r'], [186.6, 36.6, 'r'], [187.6, 45.5, 'r'],
  [188.2, 60, 'r'], [189.3, 6.6, 'y'], [190.4, 2.2, 'y'], [191.7, 32, 'y'], [192.7, 47.7, 'g'], [194.0, 33.3, 'y'],
  [195.9, 2.2, 'y'], [197.2, 21, 'y'], [198.5, 45.5, 'r'], [199.9, 44.4, 'r'], [200.9, 37.7, 'r'], [202.2, 51, 'r']
];
var erThreshold = 34;

// blue smoothing line [t, value]
var erBlue = [
  [23.6, 24.4], [25.4, 28.9], [27.4, 41], [29.3, 53], [30.1, 28], [30.7, 18.9], [31.2, 28], [32.0, 28], [33.1, 11],
  [33.7, 16.7], [34.5, 41], [35.4, 72], [36.1, 86.7], [37.1, 76.7], [37.7, 56.7], [38.2, 34.4], [39.0, 34.4],
  [39.8, 63.3], [40.4, 81], [41.5, 94.4], [42.4, 82], [43.4, 52], [44.5, 16.7], [45.4, 16.7], [46.3, 7.8], [47.2, 34],
  [48.3, 47.8], [49.4, 52], [50.6, 41], [51.7, 14.4], [52.5, 15.5], [54.0, 28], [55.5, 63], [56.5, 80], [57.4, 76.7],
  [58.5, 66.7], [59.3, 59], [60.1, 23.3], [61.0, 39], [61.9, 70], [63.3, 82], [64.0, 86.7], [64.6, 96.7], [65.7, 43],
  [66.5, 36.7], [67.6, 10], [68.9, 4.4], [69.7, 13.3], [70.7, 58], [72.2, 53], [73.1, 65.5], [74.3, 68.9], [75.5, 58.9],
  [76.5, 47.7], [77.5, 27.7], [78.5, 25.5], [79.9, 50], [80.9, 25.5], [82.1, 13.3], [83.4, 16.7], [85.3, 34.4],
  [87.0, 16.7], [88.0, 30], [89.1, 52.2], [90.7, 30], [92.6, 25.5], [94.4, 22.2], [96.1, 50], [97.1, 32], [98.5, 14.4],
  [100.7, 2.2], [102.4, 38.9], [104.4, 67.7], [105.4, 63.3], [106.3, 32], [107.1, 45.5], [108.3, 61], [109.5, 18.9],
  [111.2, 20], [112.5, 25.5], [114.2, 18.9], [115.2, 23.3], [116.1, 16.7], [117.8, 56.7], [119.1, 67.7], [120.3, 94.4],
  [121.0, 101], [122.0, 56.7], [122.9, 36.6], [124.2, 30], [125.4, 45.5], [126.4, 32], [127.6, 58.9], [128.9, 81],
  [129.6, 83.3], [131.3, 58.9], [132.0, 50], [134.0, 18.9], [135.7, 56.7], [136.9, 80], [138.6, 52], [139.9, 25.5],
  [141.6, 27.7], [142.8, 24.4], [144.3, 38.9], [145.5, 60], [147.4, 66.6], [148.8, 45], [149.7, 27.7], [151.0, 46.6],
  [152.4, 26.6], [153.7, 44.4], [154.4, 44.4], [155.2, 50], [156.1, 52.2], [157.4, 57.7], [158.4, 58.9], [159.7, 27.7],
  [160.7, 37.7], [161.9, 21], [163.2, 12.2], [164.4, 17.7], [165.5, 8.9], [166.8, 6.6], [168.1, 3.3], [169.6, 3.7],
  [170.7, 21], [171.7, 45.5], [172.6, 60], [173.7, 60], [174.5, 45.5], [175.4, 25.5], [176.2, 38.9], [177.1, 58.9],
  [178.8, 54.4], [180.1, 53.3], [181.4, 63.3], [182.4, 77.7], [183.3, 91], [184.2, 93.3], [185.0, 92.2], [185.9, 76.6],
  [186.7, 56.6], [187.8, 46.6], [188.2, 50.4], [189.3, 26.6], [190.4, 10], [191.7, 14.4], [193.0, 30], [194.0, 32],
  [195.7, 17.7], [197.2, 14.4], [198.5, 27.7], [199.9, 37.7], [200.9, 39.3], [202.0, 46.6]
];

// atrTick [t, ticks]
var atrPts = [
  [26.3, 22.2], [30.0, 22.0], [30.1, 21.2], [31.0, 21.2], [31.3, 20.8], [31.7, 21.0], [32.4, 20.2], [40.3, 20.0],
  [40.8, 18.2], [41.6, 17.0], [46.5, 17.0], [46.8, 18.0], [47.1, 17.0], [52.2, 17.0], [52.8, 16.0], [53.6, 17.0],
  [54.2, 17.0], [54.6, 16.0], [59.5, 16.0], [59.9, 15.0], [70.4, 15.0], [70.8, 15.8], [71.3, 15.0], [71.8, 15.8],
  [72.3, 15.0], [75.3, 15.0], [75.8, 15.8], [76.0, 15.2], [76.5, 16], [79.4, 16], [79.9, 15], [80.4, 16], [93.1, 16],
  [94.4, 17], [101.0, 17], [101.5, 18], [102.0, 17], [107.6, 17], [108.1, 18], [109.3, 18], [109.7, 19], [113.4, 19],
  [114.2, 18], [116.1, 18], [116.9, 19], [117.8, 19], [118.5, 18], [120.3, 18], [120.8, 17], [123.5, 17], [124.4, 16],
  [127.1, 16], [127.6, 17], [128.1, 16], [132.0, 16], [132.8, 15], [134.0, 15], [134.7, 16], [145.5, 16], [146.5, 15],
  [154.4, 15], [155.0, 16], [155.7, 15], [172.6, 15], [173.4, 14.3], [174.0, 13.5], [175.0, 14.3], [175.4, 15],
  [184.2, 15], [184.8, 14.3], [185.5, 13.5]
];

var priceTicks = [6415, 6420, 6425, 6430, 6435, 6440, 6445, 6450, 6455, 6460, 6465, 6470];
var priceGrid = [6471.6, 6468.1, 6464.6, 6461.1, 6457.6, 6454.1, 6450.6, 6447.1, 6443.6, 6440.1, 6436.6,
                 6433.1, 6429.6, 6426.1, 6422.6, 6419.1, 6415.6, 6412.1];
// horizontal levels [from t, to t, price]
var levels = [[59.1, 135.9, 6413.6], [74.3, 135.9, 6435.8], [120.7, 208.4, 6451.7], [146.7, 208.4, 6427.8]];
var trendArrow = [[34.2, 6461.6], [59.9, 6425.2]];
var rOpen = {from: 30.0, to: 202.1, price: 6468};
var lastPrice = 6429.25;
var premarket = [21.9, 30.0];
var priceFlags = [
  [6468.00, '#C9471B', '#fff'], [6432.83, '#D4428C', '#fff'], [6430.50, '#E0302E', '#fff'], [6429.25, '#EFECE2', '#222']
];
var markers = [[202.3, 6434.7, '#1E46E0'], [202.3, 6421.4, '#E0302E']];
var notes = [
  {t: 100.0, p: 6459.6, lines: ['Powell tells harvard students', 'every thing is good'], w: 183},
  {t: 138.6, p: 6457.0, lines: ['Trump talks to NY  Post', 'about Iran'], w: 153}
];

var W = 2101, H = 1076;
var plotL = 70, plotR = 2021;

document.addEventListener('DOMContentLoaded', function () {
  var svg = d3.select('#chart').append('svg').attr('width', W).attr('height', H);
  svg.append('rect').attr('width', W).attr('height', H).attr('fill', '#FDF6E3');

  var t0 = new Date(2026, 2, 30, 6, 0, 0).getTime();
  function at(m) { return new Date(t0 + m * 60000); }
  var xTime = d3.scaleTime().domain([at(21.27), at(208.33)]).range([plotL, plotR]);
  function X(t) { return xTime(at(t)); }
  var yPrice = d3.scaleLinear().domain([6410.54, 6474.72]).range([792, 0]);
  var yER = d3.scaleLinear().domain([0, 100]).range([965, 815]);
  var yHist = d3.scaleLinear().domain([0, 100]).range([934, 850.5]);
  var yAtr = d3.scaleLinear().domain([14, 22]).range([1021, 973.8]);

  var defs = svg.append('defs');
  function clip(id, y0, y1) {
    defs.append('clipPath').attr('id', id).append('rect')
      .attr('x', plotL).attr('y', y0).attr('width', plotR - plotL).attr('height', y1 - y0);
  }
  clip('cPrice', 0, 792); clip('cInd', 795, 972); clip('cAtr', 974, 1021);

  var allBars = barsPre.concat(barsDrop, barsBase, barsRally, barsFade);

  // premarket shading
  svg.append('rect').attr('x', X(premarket[0])).attr('y', 0)
    .attr('width', X(premarket[1]) - X(premarket[0])).attr('height', 1021).attr('fill', '#E3E0D3');

  // ---------- price panel ----------
  var gp = svg.append('g').attr('clip-path', 'url(#cPrice)');
  gp.selectAll('.pg').data(priceGrid).enter().append('line')
    .attr('x1', plotL).attr('x2', plotR)
    .attr('y1', d => yPrice(d)).attr('y2', d => yPrice(d))
    .attr('stroke', (d, k) => k % 3 == 1 ? '#C2C6C1' : '#919FA4').attr('stroke-width', 1.3);

  // text behind the bars
  gp.append('text').attr('x', 712).attr('y', 331).text('ES 06-26')
    .attr('font-size', 35).attr('fill', '#3A8FD8').attr('textLength', 137).attr('lengthAdjust', 'spacingAndGlyphs');
  gp.append('text').attr('x', 974).attr('y', 389).text('Pacific Time')
    .attr('font-size', 27).attr('fill', '#3A8FD8').attr('textLength', 142).attr('lengthAdjust', 'spacingAndGlyphs');
  gp.append('text').attr('x', 974).attr('y', 425).text('2000 Tick')
    .attr('font-size', 27).attr('fill', '#3A8FD8').attr('textLength', 115).attr('lengthAdjust', 'spacingAndGlyphs');
  gp.append('text').attr('x', 975).attr('y', 54).text('Monday')
    .style('font-family', '"Liberation Serif", serif')
    .attr('font-weight', 'bold').attr('font-size', 23).attr('fill', '#3A8FD8')
    .attr('textLength', 87).attr('lengthAdjust', 'spacingAndGlyphs');
  gp.append('text').attr('x', 975).attr('y', 81).text('3/30/2026')
    .style('font-family', '"Liberation Serif", serif')
    .attr('font-size', 23).attr('fill', '#3A8FD8').attr('textLength', 108).attr('lengthAdjust', 'spacingAndGlyphs');
  gp.append('text').attr('x', 2011).attr('y', 27).attr('text-anchor', 'end')
    .text('EMA 21n,, ama Super Trend 50 bar regression dots')
    .attr('font-size', 18).attr('fill', '#3A8FD8').attr('textLength', 410).attr('lengthAdjust', 'spacingAndGlyphs');
  gp.append('text').attr('x', 2012).attr('y', 781).attr('text-anchor', 'end').text('ATR: 14')
    .attr('font-size', 17).attr('fill', '#222');

  // dotted lines
  gp.append('line').attr('x1', plotL).attr('x2', plotR)
    .attr('y1', yPrice(lastPrice)).attr('y2', yPrice(lastPrice))
    .attr('stroke', '#C4A232').attr('stroke-width', 3).attr('stroke-dasharray', '3,3');
  gp.append('line').attr('x1', X(rOpen.from)).attr('x2', X(rOpen.to))
    .attr('y1', yPrice(rOpen.price)).attr('y2', yPrice(rOpen.price))
    .attr('stroke', '#C9471B').attr('stroke-width', 3).attr('stroke-dasharray', '3,3');

  // levels
  gp.selectAll('.lv').data(levels).enter().append('line')
    .attr('x1', d => X(d[0])).attr('x2', d => X(d[1]))
    .attr('y1', d => yPrice(d[2])).attr('y2', d => yPrice(d[2]))
    .attr('stroke', '#B8890A').attr('stroke-width', 3.5);

  // trend arrow
  defs.append('marker').attr('id', 'arr').attr('viewBox', '0 0 10 10').attr('refX', 8).attr('refY', 5)
    .attr('markerWidth', 5).attr('markerHeight', 5).attr('orient', 'auto')
    .append('path').attr('d', 'M0,0 L10,5 L0,10 z').attr('fill', '#E0A226');
  gp.append('line')
    .attr('x1', X(trendArrow[0][0])).attr('y1', yPrice(trendArrow[0][1]))
    .attr('x2', X(trendArrow[1][0])).attr('y2', yPrice(trendArrow[1][1]))
    .attr('stroke', '#E0A226').attr('stroke-width', 2.5).attr('marker-end', 'url(#arr)');

  // candles
  var toneCol = {g: '#879A05', y: '#FFD200', r: '#E1302D', R: '#E1302D', K: '#111'};
  var bw = 4.6;
  var cg = gp.selectAll('.bar').data(allBars).enter().append('g');
  cg.append('line')
    .attr('x1', d => X(d[0])).attr('x2', d => X(d[0]))
    .attr('y1', d => yPrice(d[2])).attr('y2', d => yPrice(d[3]))
    .attr('stroke', d => toneCol[d[5]]).attr('stroke-width', 1.7);
  cg.append('rect')
    .attr('x', d => X(d[0]) - bw / 2)
    .attr('y', d => yPrice(Math.max(d[1], d[4])))
    .attr('width', bw)
    .attr('height', d => Math.max(1.5, Math.abs(yPrice(d[1]) - yPrice(d[4]))))
    .attr('fill', function (d) {
      var hollow = d[5] == 'R' || d[5] == 'K' || (d[5] == 'y' && d[4] > d[1]);
      return hollow ? '#FDF6E3' : toneCol[d[5]];
    })
    .attr('stroke', d => toneCol[d[5]]).attr('stroke-width', 1.2);

  // EMA
  var lineP = d3.line().x(d => X(d[0])).y(d => yPrice(d[1]));
  for (var i = 1; i < emaPts.length; i++) {
    gp.append('path').attr('d', lineP([emaPts[i - 1], emaPts[i]])).attr('fill', 'none')
      .attr('stroke', emaPts[i][2] == 'u' ? '#2A9F96' : '#C4409A').attr('stroke-width', 2.3)
      .attr('stroke-linecap', 'round');
  }

  // super trend dots
  gp.selectAll('.st').data(stDots).enter().append('circle')
    .attr('cx', d => X(d[0])).attr('cy', d => yPrice(d[1])).attr('r', 3.7)
    .attr('fill', d => d[2] == 'r' ? '#E2332F' : '#889B06');

  gp.selectAll('.mk').data(markers).enter().append('rect')
    .attr('x', d => X(d[0]) - 1).attr('y', d => yPrice(d[1]) - 2).attr('width', 2.5).attr('height', 4)
    .attr('fill', d => d[2]);

  // news boxes
  notes.forEach(function (n) {
    var x0 = X(n.t), y0 = yPrice(n.p);
    gp.append('rect').attr('x', x0).attr('y', y0).attr('width', n.w).attr('height', 37)
      .attr('fill', '#062B36').attr('stroke', '#3F5E66').attr('stroke-width', 1);
    n.lines.forEach(function (s, k) {
      gp.append('text').attr('x', x0 + 3).attr('y', y0 + 15.5 + k * 15.5).text(s)
        .style('font-family', '"Liberation Sans", Arial, sans-serif').attr('font-size', 13.5).attr('fill', '#fff')
        .style('white-space', 'pre');
    });
  });

  // R-Open tag
  svg.append('text').attr('x', 1974).attr('y', yPrice(rOpen.price)).attr('dy', '0.35em').text('R-Open')
    .attr('font-size', 18).attr('fill', '#C9471B');

  // ---------- indicator panel ----------
  var gi = svg.append('g').attr('clip-path', 'url(#cInd)');
  var indGrid = d3.range(-2, 118, 3);
  gi.selectAll('.ig').data(indGrid).enter().append('line')
    .attr('x1', plotL).attr('x2', plotR)
    .attr('y1', d => yER(d)).attr('y2', d => yER(d))
    .attr('stroke', (d, k) => k % 2 ? '#B5BEBE' : '#7E8D92').attr('stroke-width', 1);

  var erFill = {r: '#FF4B48', g: '#A2B536', y: '#E3B441'};
  var erLine = {r: '#E5302C', g: '#8A9C0C', y: '#C99A10'};
  var T = erThreshold;
  var erStrokes = [];
  function piece(a, b, tone) {
    gi.append('path')
      .attr('d', 'M' + X(a[0]) + ',' + yER(T) + 'L' + X(a[0]) + ',' + yER(a[1]) +
        'L' + X(b[0]) + ',' + yER(b[1]) + 'L' + X(b[0]) + ',' + yER(T) + 'Z')
      .attr('fill', erFill[tone]).attr('fill-opacity', 0.85);
    erStrokes.push([a, b, tone]);
  }
  for (var j = 1; j < erPts.length; j++) {
    var a = erPts[j - 1], b = erPts[j];
    var aUp = a[1] >= T, bUp = b[1] >= T;
    if (aUp == bUp) {
      piece(a, b, aUp ? (b[2] == 'y' ? a[2] : b[2]) : 'y');
    } else {
      var f = (T - a[1]) / (b[1] - a[1]);
      var m = [a[0] + f * (b[0] - a[0]), T];
      piece(a, m, aUp ? (a[2] == 'y' ? b[2] : a[2]) : 'y');
      piece(m, b, bUp ? (b[2] == 'y' ? a[2] : b[2]) : 'y');
    }
  }

  // time per bar histogram
  gi.selectAll('.hb').data(allBars.filter(d => d[6] > 0)).enter().append('line')
    .attr('x1', d => X(d[0])).attr('x2', d => X(d[0]))
    .attr('y1', yHist(0)).attr('y2', d => yHist(d[6]))
    .attr('stroke', '#D9531E').attr('stroke-width', 2);

  gi.append('line').attr('x1', plotL).attr('x2', plotR).attr('y1', yER(T)).attr('y2', yER(T))
    .attr('stroke', '#000').attr('stroke-width', 3);

  erStrokes.forEach(function (s) {
    gi.append('line').attr('x1', X(s[0][0])).attr('y1', yER(s[0][1]))
      .attr('x2', X(s[1][0])).attr('y2', yER(s[1][1]))
      .attr('stroke', erLine[s[2]]).attr('stroke-width', 2.5).attr('stroke-linecap', 'round');
  });

  gi.append('path').datum(erBlue)
    .attr('d', d3.line().x(d => X(d[0])).y(d => yER(d[1])))
    .attr('fill', 'none').attr('stroke', '#2E90DC').attr('stroke-width', 3).attr('stroke-linejoin', 'round');

  gi.append('text').attr('x', 75).attr('y', 815)
    .text('LEFT SIDE skTimePerTickBarModNT8(ES 06-26 (2000 Tick)), CONTROLLING BAR COLOR amaEfficiencyRatio(ES 06-26 (2000 Tick),Balanced,0.75,5,5)')
    .attr('font-size', 16.5).attr('fill', '#1A1A1A').attr('textLength', 1132).attr('lengthAdjust', 'spacingAndGlyphs');

  // ---------- ATR panel ----------
  var ga = svg.append('g').attr('clip-path', 'url(#cAtr)');
  ga.append('line').attr('x1', plotL).attr('x2', plotR).attr('y1', 986).attr('y2', 986)
    .attr('stroke', '#C3C7C2').attr('stroke-width', 1.5);
  ga.append('path').datum(atrPts)
    .attr('d', d3.line().x(d => X(d[0])).y(d => yAtr(d[1])))
    .attr('fill', 'none').attr('stroke', '#22A08F').attr('stroke-width', 3);
  ga.append('text').attr('x', 88).attr('y', 995)
    .text('RIGHT SIDE  atrTick(ES 06-26 (2000 Tick),Wilder,21,false)').style('white-space', 'pre')
    .attr('font-size', 17).attr('fill', '#1A1A1A').attr('textLength', 436).attr('lengthAdjust', 'spacingAndGlyphs');
  ga.append('text').attr('x', 75).attr('y', 1011).text('\u00A9 2026 NinjaTrader, LLC')
    .attr('font-size', 17).attr('fill', '#1A1A1A').attr('textLength', 187).attr('lengthAdjust', 'spacingAndGlyphs');

  // ---------- frames ----------
  [793, 973].forEach(function (y) {
    svg.append('line').attr('x1', 0).attr('x2', W).attr('y1', y).attr('y2', y)
      .attr('stroke', '#A9B1B0').attr('stroke-width', 1.5);
  });
  svg.append('line').attr('x1', plotL).attr('x2', plotL).attr('y1', 0).attr('y2', 1021)
    .attr('stroke', '#8E9A9E').attr('stroke-width', 1.5);
  svg.append('line').attr('x1', plotR).attr('x2', plotR).attr('y1', 0).attr('y2', 1021)
    .attr('stroke', '#8E9A9E').attr('stroke-width', 1.5);

  // axes
  var ax = svg.append('g').attr('transform', 'translate(0,1021)')
    .call(d3.axisBottom(xTime).ticks(d3.timeMinute.every(10)).tickFormat(d3.timeFormat('%-I:%M %p'))
      .tickSize(5).tickPadding(8));
  ax.select('.domain').attr('stroke', '#8E9A9E').attr('stroke-width', 1.5);
  ax.selectAll('line').attr('stroke', '#6E7B80');
  ax.selectAll('text').attr('font-size', 18.5).attr('fill', '#222').style('font-family', '"Noto Sans", sans-serif');

  var ar = svg.append('g').attr('transform', 'translate(' + plotR + ',0)')
    .call(d3.axisRight(yPrice).tickValues(priceTicks).tickFormat(d3.format('.2f')).tickSize(5).tickPadding(4));
  ar.select('.domain').remove();
  ar.selectAll('line').attr('stroke', '#6E7B80');
  ar.selectAll('text').attr('font-size', 17.5).attr('fill', '#222').style('font-family', '"Noto Sans", sans-serif');

  var ai = svg.append('g').attr('transform', 'translate(' + plotR + ',0)')
    .call(d3.axisRight(yER).tickValues([0, 20, 40, 60, 80, 100]).tickFormat(d => d ? d : '').tickSize(5).tickPadding(4));
  ai.select('.domain').remove();
  ai.selectAll('line').attr('stroke', '#6E7B80');
  ai.selectAll('text').attr('font-size', 18.5).attr('fill', '#222').style('font-family', '"Noto Sans", sans-serif');

  var al = svg.append('g').attr('transform', 'translate(' + plotL + ',0)')
    .call(d3.axisLeft(yHist).tickValues([0, 50, 100]).tickSize(0).tickPadding(7));
  al.select('.domain').remove();
  al.selectAll('text').attr('font-size', 18.5).attr('fill', '#222').style('font-family', '"Noto Sans", sans-serif');

  // value flags on the price axis
  priceFlags.forEach(function (f) {
    var cy = yPrice(f[0]);
    svg.append('path')
      .attr('d', 'M' + plotR + ',' + cy + 'L' + (plotR + 8) + ',' + (cy - 12.5) + 'L' + W + ',' + (cy - 12.5) +
        'L' + W + ',' + (cy + 12.5) + 'L' + (plotR + 8) + ',' + (cy + 12.5) + 'Z')
      .attr('fill', f[1]).attr('stroke', f[2] == '#fff' ? f[1] : '#A8A89E').attr('stroke-width', 1);
    svg.append('text').attr('x', plotR + 9).attr('y', cy).attr('dy', '0.36em').text(d3.format('.2f')(f[0]))
      .attr('font-size', 17.5).attr('fill', f[2]);
  });

  // last value flag of the left scale
  var hy = yHist(66);
  svg.append('path')
    .attr('d', 'M2,' + (hy - 13) + 'L66,' + (hy - 13) + 'L75,' + hy + 'L66,' + (hy + 13) + 'L2,' + (hy + 13) + 'Z')
    .attr('fill', '#C9471B');
  svg.append('text').attr('x', 63).attr('y', hy).attr('dy', '0.36em').attr('text-anchor', 'end').text('66')
    .attr('font-size', 18.5).attr('fill', '#fff');

  // F buttons
  [[3, 799], [3, 977], [2083, 977]].forEach(function (p) {
    svg.append('rect').attr('x', p[0]).attr('y', p[1]).attr('width', 16).attr('height', 19)
      .attr('fill', '#EFEBE0').attr('stroke', '#A6AEAE');
    svg.append('text').attr('x', p[0] + 8).attr('y', p[1] + 14.5).attr('text-anchor', 'middle').text('F')
      .attr('font-size', 13).attr('fill', '#666');
  });

  svg.append('text').attr('x', 4).attr('y', 1072).text('ES 06-26 ES 06-26 2000 Tick')
    .attr('font-size', 10).attr('fill', '#444').attr('textLength', 112).attr('lengthAdjust', 'spacingAndGlyphs');
  svg.append('text').attr('x', 1986).attr('y', 1072).text('NINJATRADER')
    .attr('font-size', 17).attr('font-weight', 'bold').attr('fill', '#E8491D')
    .attr('textLength', 113).attr('lengthAdjust', 'spacingAndGlyphs');
});
</script>
</body>
</html>
